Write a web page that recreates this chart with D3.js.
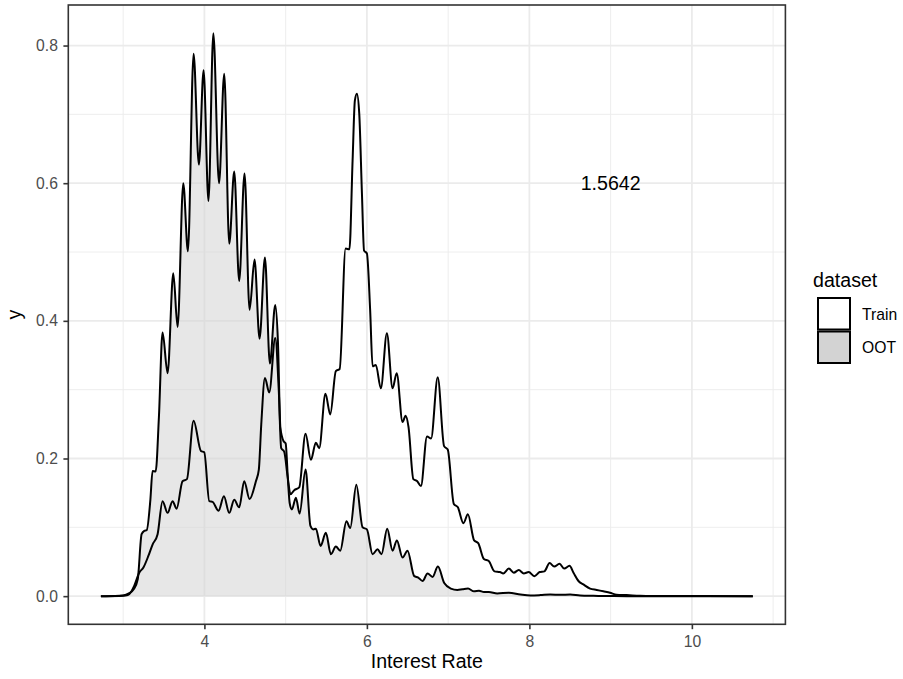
<!DOCTYPE html>
<html>
<head>
<meta charset="utf-8">
<script src="https://cdn.jsdelivr.net/npm/d3@7"></script>
<style>
  body { margin: 0; background: #ffffff; }
  svg text { font-family: "Liberation Sans", Arial, Helvetica, sans-serif; }
</style>
</head>
<body>
<svg id="chart" width="903" height="679"></svg>
<script>
// Density estimates of the interest rate, per dataset
const trainX = [2.726, 2.95, 3.03, 3.075, 3.136, 3.198, 3.251, 3.309, 3.362, 3.424, 3.485, 3.547, 3.608, 3.658, 3.731, 3.785, 3.867, 3.957, 3.998, 4.06, 4.1, 4.174, 4.24, 4.306, 4.367, 4.428, 4.49, 4.556, 4.634, 4.67, 4.70, 4.745, 4.798, 4.872, 4.915, 4.945, 4.982, 5.024, 5.06, 5.106, 5.167, 5.245, 5.311, 5.372, 5.413, 5.49, 5.549, 5.618, 5.665, 5.738, 5.785, 5.824, 5.852, 5.877, 5.906, 5.939, 5.965, 6.0, 6.04, 6.07, 6.11, 6.172, 6.246, 6.316, 6.367, 6.439, 6.476, 6.512, 6.572, 6.62, 6.665, 6.74, 6.79, 6.872, 6.95, 6.995, 7.07, 7.12, 7.188, 7.243, 7.32, 7.37, 7.44, 7.5, 7.571, 7.637, 7.678, 7.747, 7.808, 7.869, 7.931, 7.992, 8.061, 8.127, 8.184, 8.249, 8.306, 8.371, 8.429, 8.494, 8.543, 8.604, 8.665, 8.747, 8.829, 8.91, 8.992, 9.073, 9.196, 9.36, 9.52, 10.75];
const trainY = [0, 0.0003, 0.001, 0.003, 0.015, 0.034, 0.042, 0.058, 0.075, 0.090, 0.138, 0.121, 0.138, 0.127, 0.167, 0.170, 0.255, 0.211, 0.209, 0.138, 0.137, 0.124, 0.145, 0.121, 0.140, 0.129, 0.167, 0.141, 0.167, 0.184, 0.25, 0.317, 0.296, 0.375, 0.30, 0.215, 0.210, 0.174, 0.148, 0.154, 0.158, 0.236, 0.198, 0.223, 0.215, 0.294, 0.264, 0.327, 0.330, 0.505, 0.504, 0.633, 0.72, 0.730, 0.701, 0.585, 0.502, 0.498, 0.416, 0.334, 0.336, 0.302, 0.382, 0.302, 0.324, 0.253, 0.262, 0.246, 0.170, 0.167, 0.160, 0.232, 0.229, 0.318, 0.218, 0.213, 0.134, 0.129, 0.106, 0.119, 0.081, 0.077, 0.054, 0.051, 0.036, 0.035, 0.033, 0.040, 0.034, 0.038, 0.033, 0.035, 0.029, 0.035, 0.036, 0.048, 0.043, 0.047, 0.040, 0.044, 0.034, 0.022, 0.017, 0.011, 0.009, 0.007, 0.005, 0.002, 0.0015, 0.0005, 0.0002, 0];

const ootX = [2.726, 2.9, 3.0, 3.07, 3.13, 3.18, 3.227, 3.26, 3.29, 3.335, 3.362, 3.40, 3.44, 3.485, 3.547, 3.617, 3.67, 3.74, 3.797, 3.867, 3.932, 3.99, 4.05, 4.11, 4.18, 4.244, 4.306, 4.367, 4.428, 4.494, 4.556, 4.617, 4.679, 4.745, 4.806, 4.872, 4.905, 4.935, 4.975, 5.0, 5.03, 5.05, 5.077, 5.126, 5.172, 5.245, 5.305, 5.34, 5.372, 5.43, 5.495, 5.557, 5.618, 5.672, 5.748, 5.795, 5.87, 5.947, 6.0, 6.07, 6.131, 6.18, 6.25, 6.316, 6.369, 6.439, 6.5, 6.583, 6.632, 6.685, 6.747, 6.808, 6.874, 6.952, 7.033, 7.114, 7.176, 7.245, 7.318, 7.38, 7.441, 7.502, 7.604, 7.747, 7.89, 8.012, 8.135, 8.257, 8.38, 8.502, 8.624, 8.788, 8.95, 9.2, 10.75];
const ootY = [0, 0.0003, 0.001, 0.004, 0.010, 0.025, 0.090, 0.095, 0.096, 0.140, 0.182, 0.181, 0.26, 0.383, 0.324, 0.469, 0.391, 0.600, 0.501, 0.788, 0.627, 0.764, 0.574, 0.818, 0.600, 0.759, 0.512, 0.617, 0.458, 0.614, 0.416, 0.489, 0.374, 0.492, 0.338, 0.423, 0.37, 0.245, 0.225, 0.222, 0.165, 0.135, 0.126, 0.143, 0.120, 0.184, 0.102, 0.097, 0.098, 0.073, 0.092, 0.061, 0.072, 0.066, 0.109, 0.099, 0.162, 0.100, 0.097, 0.061, 0.068, 0.061, 0.098, 0.066, 0.081, 0.056, 0.066, 0.029, 0.027, 0.022, 0.033, 0.028, 0.043, 0.019, 0.011, 0.009, 0.010, 0.011, 0.007, 0.008, 0.006, 0.006, 0.004, 0.005, 0.0024, 0.001, 0.0015, 0.0024, 0.002, 0.0024, 0.001, 0.0005, 0.0002, 0, 0];

const seriesNames = ["Train", "OOT"];
const seriesFill = ["#ffffff", "#d3d3d3"];
const xTicks = [4, 6, 8, 10];
const xMinorTicks = [3, 5, 7, 9, 11];
const yTicks = [0, 0.2, 0.4, 0.6, 0.8];
const yMinorTicks = [0.1, 0.3, 0.5, 0.7];
const statLabel = "1.5642";
const statPos = [9, 0.6];

const svg = d3.select("#chart");
const panel = { left: 68.3, right: 785.4, top: 5, bottom: 624.3 };

const train = trainX.map((x, i) => ({ x, y: trainY[i] }));
const oot = ootX.map((x, i) => ({ x, y: ootY[i] }));
const all = train.concat(oot);

// ggplot-style 5% expansion around the data range
const xExt = d3.extent(all, d => d.x);
const xPad = (xExt[1] - xExt[0]) * 0.05;
const yMax = d3.max(all, d => d.y);
const yPad = yMax * 0.05;

const x = d3.scaleLinear().domain([xExt[0] - xPad, xExt[1] + xPad]).range([panel.left, panel.right]);
const y = d3.scaleLinear().domain([-yPad, yMax + yPad]).range([panel.bottom, panel.top]);

// panel background and grid
svg.append("rect").attr("x", panel.left).attr("y", panel.top)
  .attr("width", panel.right - panel.left).attr("height", panel.bottom - panel.top)
  .attr("fill", "#ffffff");

const grid = svg.append("g").attr("stroke", "#ebebeb").attr("fill", "none");
grid.selectAll(".vmin").data(xMinorTicks).join("line")
  .attr("x1", d => x(d)).attr("x2", d => x(d)).attr("y1", panel.top).attr("y2", panel.bottom)
  .attr("stroke-width", 0.9);
grid.selectAll(".hmin").data(yMinorTicks).join("line")
  .attr("y1", d => y(d)).attr("y2", d => y(d)).attr("x1", panel.left).attr("x2", panel.right)
  .attr("stroke-width", 0.9);
grid.selectAll(".vmaj").data(xTicks).join("line")
  .attr("x1", d => x(d)).attr("x2", d => x(d)).attr("y1", panel.top).attr("y2", panel.bottom)
  .attr("stroke-width", 1.8);
grid.selectAll(".hmaj").data(yTicks).join("line")
  .attr("y1", d => y(d)).attr("y2", d => y(d)).attr("x1", panel.left).attr("x2", panel.right)
  .attr("stroke-width", 1.8);

// density areas and outlines
const area = d3.area().x(d => x(d.x)).y0(y(0)).y1(d => y(d.y)).curve(d3.curveMonotoneX);
const line = d3.line().x(d => x(d.x)).y(d => y(d.y)).curve(d3.curveMonotoneX);

svg.append("path").datum(oot).attr("d", area).attr("fill", seriesFill[1]).attr("fill-opacity", 0.55);
svg.append("path").datum(train).attr("d", area).attr("fill", seriesFill[0]).attr("fill-opacity", 0);

[train, oot].forEach(s => {
  svg.append("path").datum(s).attr("d", line)
    .attr("fill", "none").attr("stroke", "#000000").attr("stroke-width", 2)
    .attr("stroke-linejoin", "round");
});

// statistic annotation
svg.append("text").attr("x", x(statPos[0])).attr("y", y(statPos[1]))
  .attr("text-anchor", "middle").attr("dominant-baseline", "central")
  .attr("font-size", 19.6).attr("fill", "#000000").text(statLabel);

// panel border
svg.append("rect").attr("x", panel.left).attr("y", panel.top)
  .attr("width", panel.right - panel.left).attr("height", panel.bottom - panel.top)
  .attr("fill", "none").attr("stroke", "#333333").attr("stroke-width", 1.6);

// axes
const xAxis = svg.append("g").attr("transform", `translate(0,${panel.bottom})`)
  .call(d3.axisBottom(x).tickValues(xTicks).tickSize(4.9).tickPadding(6.8).tickFormat(d3.format("d")));
const yAxis = svg.append("g").attr("transform", `translate(${panel.left},0)`)
  .call(d3.axisLeft(y).tickValues(yTicks).tickSize(4.9).tickPadding(5.5).tickFormat(d3.format(".1f")));
[xAxis, yAxis].forEach(a => {
  a.select(".domain").remove();
  a.selectAll(".tick line").attr("stroke", "#333333").attr("stroke-width", 1.6);
  a.selectAll(".tick text").attr("fill", "#4d4d4d").attr("font-size", 15.7)
    .attr("font-family", "'Liberation Sans', Arial, sans-serif");
});

svg.append("text").attr("x", (panel.left + panel.right) / 2).attr("y", 668)
  .attr("text-anchor", "middle").attr("font-size", 19.6).attr("fill", "#000000").text("Interest Rate");
svg.append("text").attr("transform", `translate(21,${(panel.top + panel.bottom) / 2}) rotate(-90)`)
  .attr("text-anchor", "middle").attr("font-size", 19.6).attr("fill", "#000000").text("y");

// legend
const legend = svg.append("g");
legend.append("text").attr("x", 813).attr("y", 287).attr("font-size", 19.6).attr("fill", "#000000").text("dataset");
const keys = legend.selectAll(".key").data(seriesNames).join("g")
  .attr("transform", (d, i) => `translate(818,${298 + i * 33.5})`);
keys.append("rect").attr("x", 0).attr("y", 0).attr("width", 32).attr("height", 31.5)
  .attr("fill", (d, i) => seriesFill[i]).attr("stroke", "#000000").attr("stroke-width", 2);
keys.append("text").attr("x", 44).attr("y", 16).attr("dominant-baseline", "central")
  .attr("font-size", 15.7).attr("fill", "#000000").text(d => d);
</script>
</body>
</html>
